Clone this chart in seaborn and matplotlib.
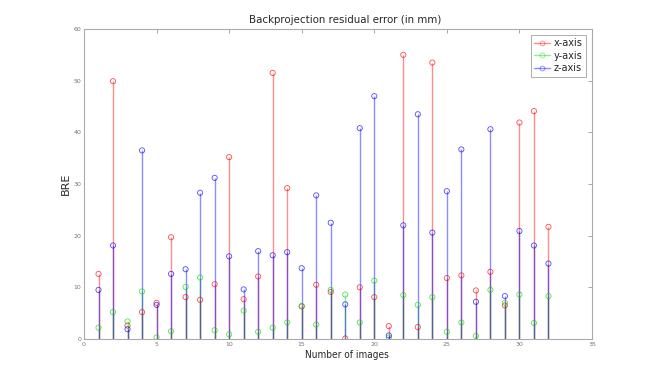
import matplotlib
matplotlib.use("Agg")
import matplotlib.pyplot as plt
from matplotlib.lines import Line2D
from matplotlib import font_manager
import seaborn as sns

images = list(range(1, 33))
x_axis = [12.6, 49.9, 2.6, 5.2, 7.0, 19.7, 8.1, 7.6, 10.6, 35.2, 7.7, 12.1,
          51.5, 29.2, 6.3, 10.5, 9.1, 0.1, 10.0, 8.1, 2.5, 55.0, 2.3, 53.5,
          11.8, 12.3, 9.4, 13.0, 6.5, 41.9, 44.1, 21.7]
y_axis = [2.2, 5.2, 3.4, 9.2, 0.3, 1.5, 10.1, 11.9, 1.7, 0.9, 5.5, 1.4,
          2.2, 3.2, 6.4, 2.8, 9.5, 8.6, 3.2, 11.3, 0.3, 8.5, 6.6, 8.1,
          1.4, 3.2, 0.6, 9.5, 7.0, 8.6, 3.1, 8.3]
z_axis = [9.5, 18.1, 1.9, 36.5, 6.6, 12.6, 13.5, 28.3, 31.2, 16.0, 9.6, 17.0,
          16.2, 16.8, 13.7, 27.8, 22.5, 6.7, 40.8, 47.0, 0.7, 22.0, 43.5, 20.6,
          28.6, 36.7, 7.2, 40.6, 8.3, 20.9, 18.1, 14.6]

series = [("x-axis", x_axis, "#ff0000"), ("y-axis", y_axis, "#00dd00"), ("z-axis", z_axis, "#0000ff")]

sns.set_style("white")
plt.rcParams["font.family"] = ["DejaVu Sans"]

cond = [f for f in font_manager.fontManager.ttflist if "ondensed" in f.fname or "Narrow" in f.fname]
if cond:
    narrow = dict(fontproperties=font_manager.FontProperties(fname=sorted(cond, key=lambda f: ("Bold" in f.fname or "Oblique" in f.fname or "Italic" in f.fname, f.fname))[0].fname))
else:
    narrow = dict(family="DejaVu Sans")

fig = plt.figure(figsize=(6.54, 3.82), dpi=100)
ax = fig.add_axes([84/654, 1-339/382, (592-84)/654, (339-29)/382])

handles = []
for name, vals, c in series:
    ax.vlines(images, 0, vals, colors=c, alpha=0.45, lw=1.0, zorder=2)
    sns.scatterplot(x=images, y=vals, ax=ax, marker="o", s=14,
                    facecolors="none", edgecolors=c, linewidths=0.6, alpha=0.7, zorder=3)
    handles.append(Line2D([0], [0], color=c, alpha=0.45, lw=1.0, marker="o",
                          markersize=3.5, markerfacecolor="none", markeredgecolor=c,
                          markeredgewidth=0.6))

ax.set_xlim(0, 35)
ax.set_ylim(0, 60)
ax.set_xticks(range(0, 36, 5))
ax.set_yticks(range(0, 61, 10))
ax.tick_params(direction="in", length=3, width=0.6, colors="#999999", labelsize=4.5,
               labelcolor="#777777", top=True, right=True, pad=2)
for s in ax.spines.values():
    s.set_color("#aaaaaa")
    s.set_linewidth(0.8)

t = ax.set_title("Backprojection residual error (in mm)", pad=4, x=0.514, **narrow)
t.set_fontsize(8.2)
xl = ax.set_xlabel("Number of images", labelpad=0, **narrow)
xl.set_fontsize(7.2)
ax.xaxis.set_label_coords(0.518, -0.035)
ax.set_ylabel("BRE", fontsize=8, labelpad=2)

leg = ax.legend(handles, [s[0] for s in series], loc="upper right", fontsize=7,
                frameon=True, fancybox=False, edgecolor="#888888", handlelength=1.6,
                handletextpad=0.4, borderpad=0.35, labelspacing=0.25,
                borderaxespad=0.6)
leg.get_frame().set_linewidth(0.6)

fig.savefig("out.png", dpi=100)
